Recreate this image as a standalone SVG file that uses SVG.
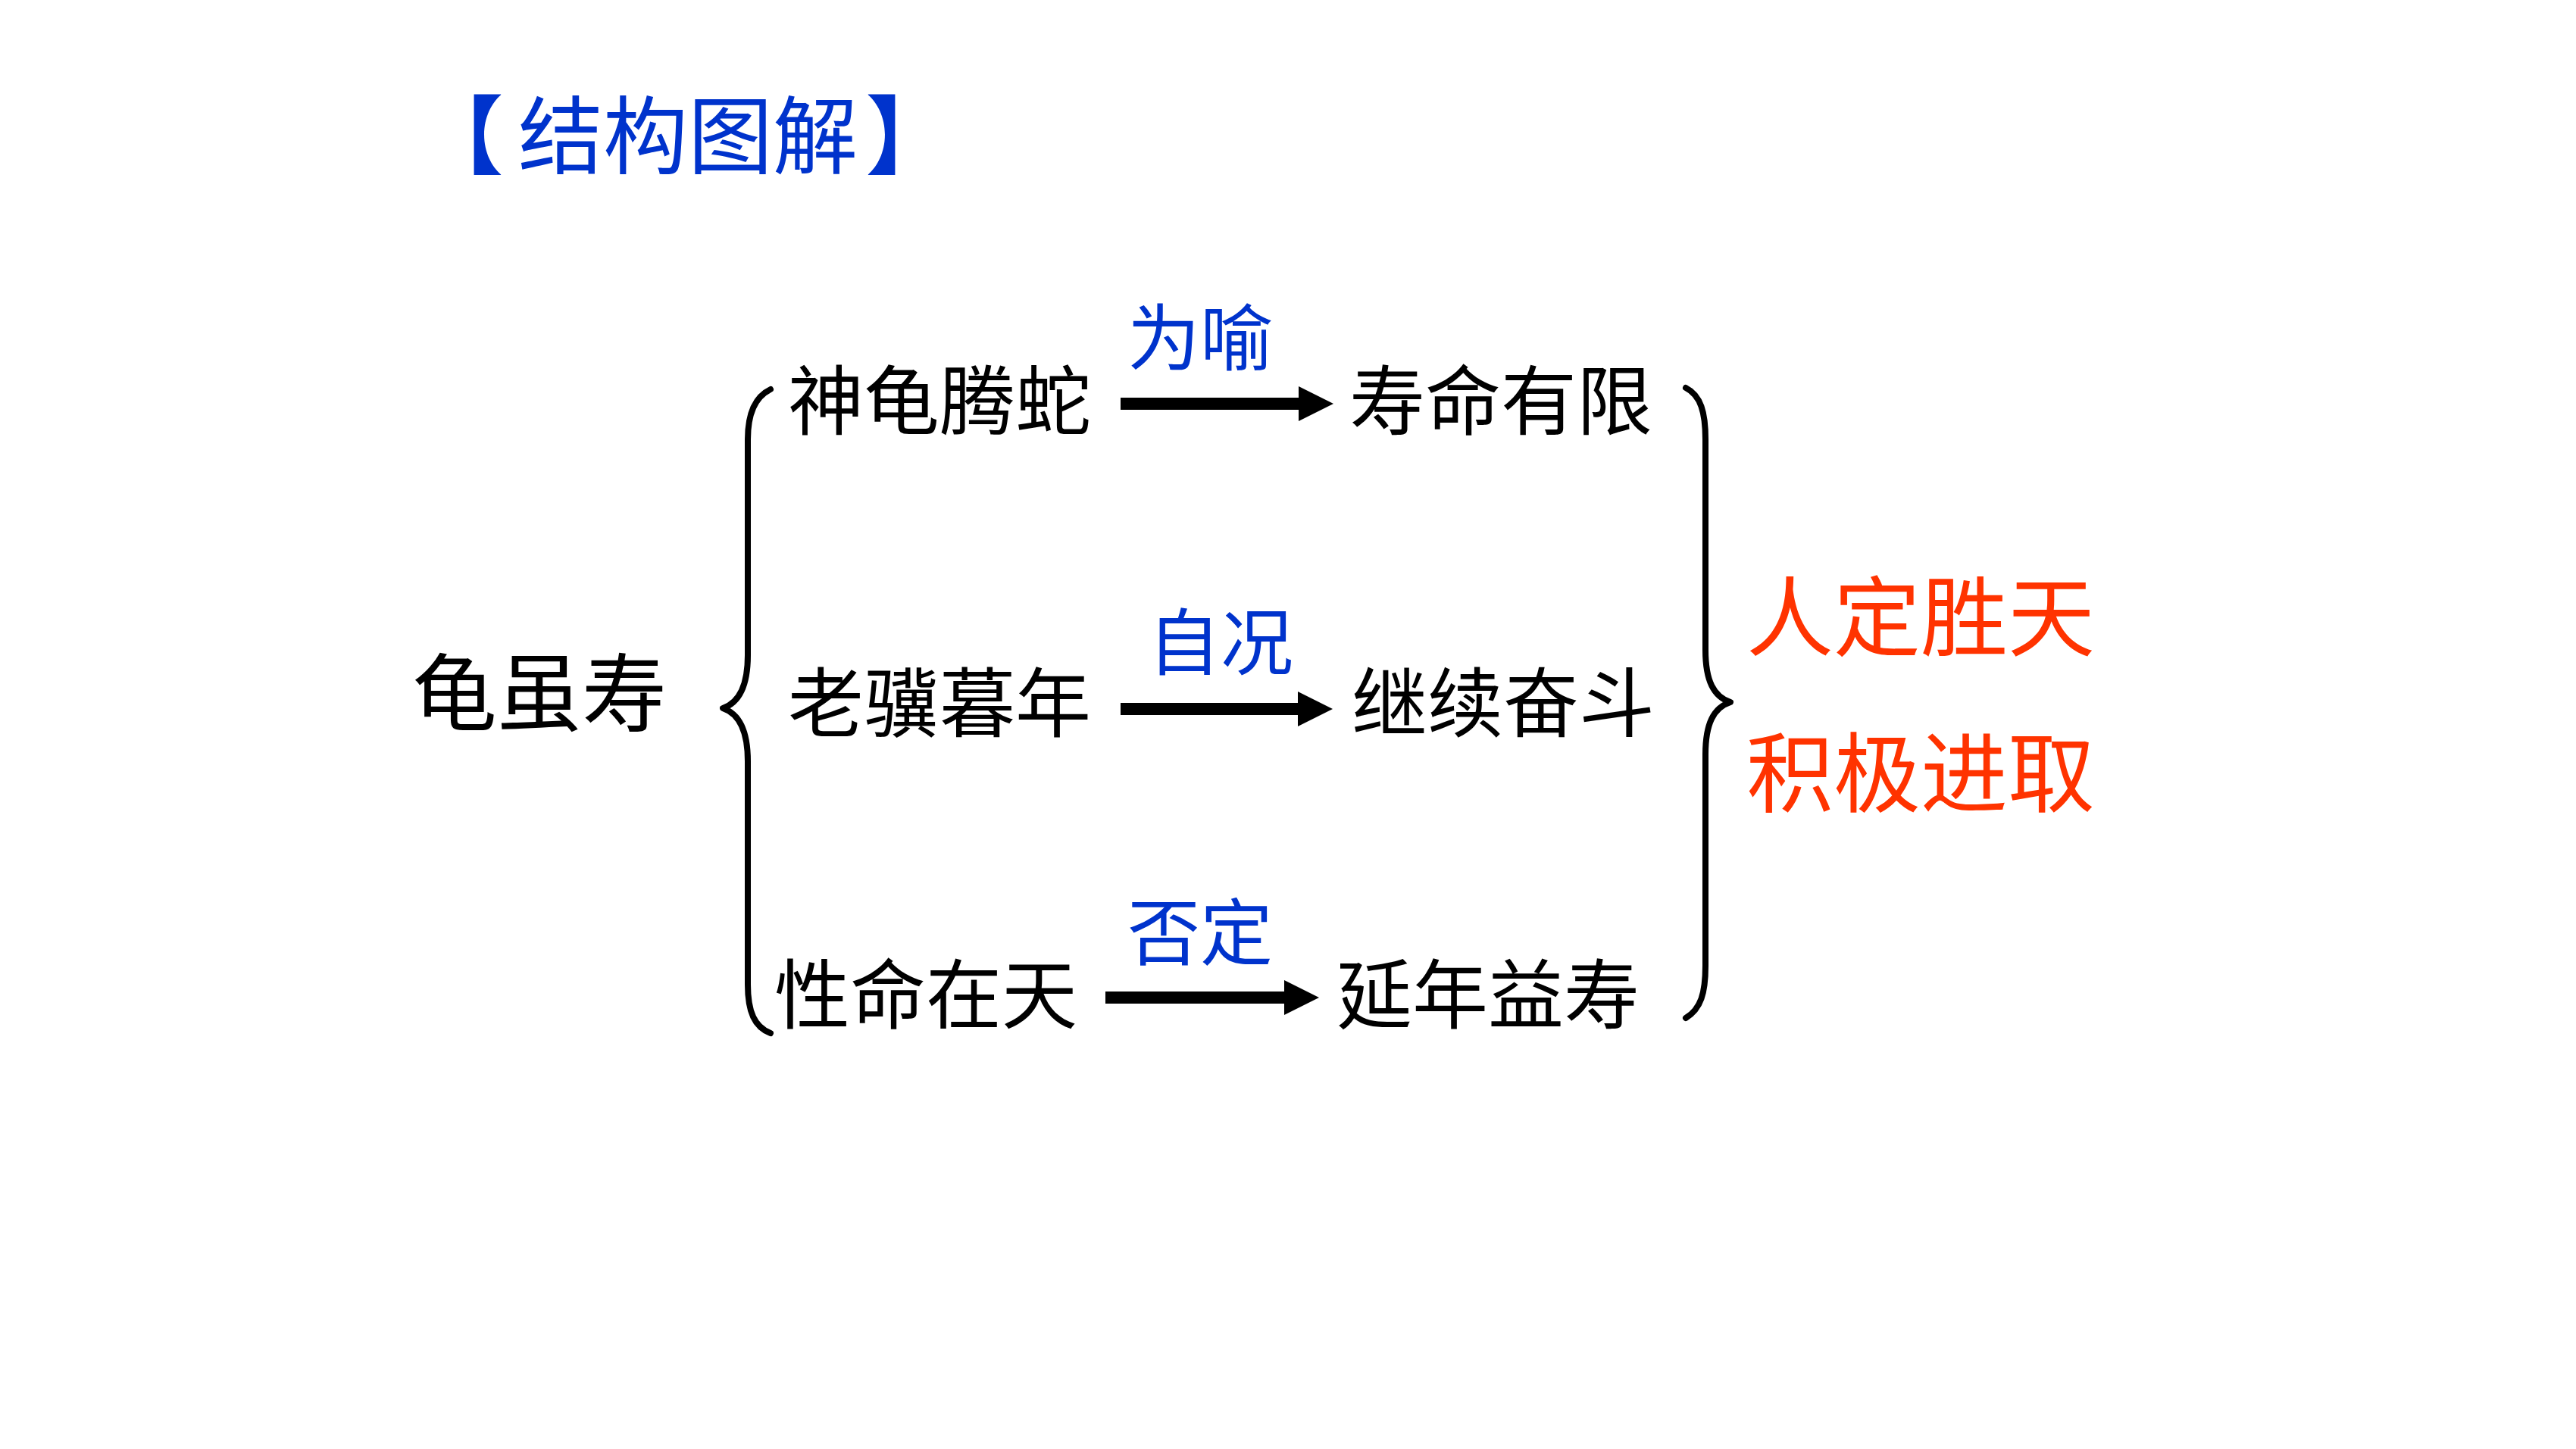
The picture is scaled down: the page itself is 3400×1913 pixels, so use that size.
<svg xmlns="http://www.w3.org/2000/svg" width="3400" height="1913" viewBox="0 0 3400 1913">
<style>
text{font-family:"Noto Sans CJK SC","Noto Sans CJK TC",sans-serif;text-anchor:middle}
.blk{fill:#000;font-size:100px}
.blu{fill:#0033cc;font-size:96px}
.red{fill:#ff3300;font-size:115px}
.brace{fill:none;stroke:#000;stroke-width:8;stroke-linecap:round;stroke-linejoin:round}
.arr{stroke:#000;stroke-width:16;marker-end:url(#ah)}
</style>
<defs>
<marker id="ah" viewBox="0 0 46 46" refX="0" refY="23" markerWidth="46" markerHeight="46" markerUnits="userSpaceOnUse" orient="auto">
<path d="M0,0 L46,23 L0,46 Z" fill="#000"/>
</marker>
</defs>
<rect width="3400" height="1913" fill="#fff"/>
<g id="title"><text y="221" style="fill:#0033cc;font-size:112px;text-anchor:start"><tspan x="552" style="font-weight:900">【</tspan><tspan x="684">结构图解</tspan><tspan x="1143" style="font-weight:900">】</tspan></text></g>
<g id="root"><text class="blk" x="712" y="957" style="font-size:112px">龟虽寿</text></g>
<g id="braces">
<path class="brace" d="M1017,514 C996,524 987,546 987,580 L987,865 C987,906 975,928 954,935 C975,942 987,964 987,1005 L987,1300 C987,1336 996,1356 1017,1364"/>
<path class="brace" d="M2225,512 C2245,522 2251,545 2251,580 L2251,858 C2251,899 2262,920 2284,927 C2262,934 2251,955 2251,996 L2251,1275 C2251,1311 2245,1332 2225,1344"/>
</g>
<g id="n1a"><text class="blk" x="1240" y="566">神龟腾蛇</text></g>
<g id="n1b"><text class="blk" x="1981" y="566">寿命有限</text></g>
<g id="n2a"><text class="blk" x="1240" y="965">老骥暮年</text></g>
<g id="n2b"><text class="blk" x="1984" y="965">继续奋斗</text></g>
<g id="n3a"><text class="blk" x="1222" y="1350">性命在天</text></g>
<g id="n3b"><text class="blk" x="1964" y="1350">延年益寿</text></g>
<g id="conclusion">
<text class="red" x="2535" y="857">人定胜天</text>
<text class="red" x="2535" y="1063">积极进取</text>
</g>
<g id="connectors">
<line class="arr" x1="1479" y1="533" x2="1714" y2="533"/>
<line class="arr" x1="1479" y1="936" x2="1713" y2="936"/>
<line class="arr" x1="1459" y1="1317" x2="1695" y2="1317"/>
<text class="blu" x="1584" y="481">为喻</text>
<text class="blu" x="1611" y="883">自况</text>
<text class="blu" x="1584" y="1266">否定</text>
</g>
</svg>
